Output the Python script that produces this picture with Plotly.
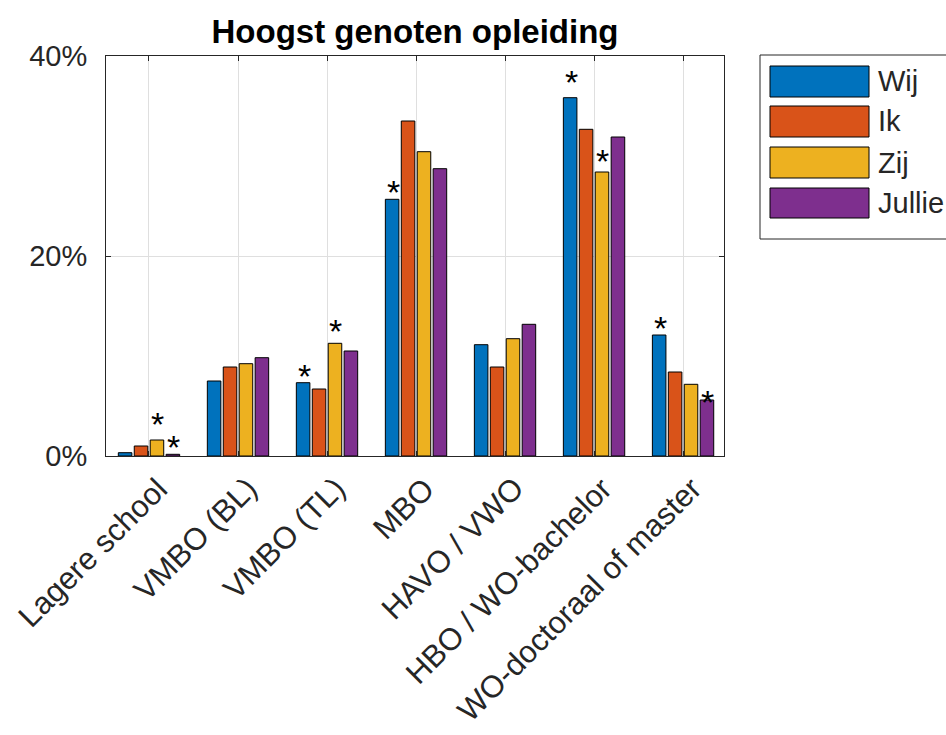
import plotly.graph_objects as go

# ---- data ----
categories = ["Lagere school", "VMBO (BL)", "VMBO (TL)", "MBO", "HAVO / VWO",
              "HBO / WO-bachelor", "WO-doctoraal of master"]
series_names = ["Wij", "Ik", "Zij", "Jullie"]
wij    = [0.33, 7.5, 7.33, 25.67, 11.13, 35.83, 12.1]
ik     = [1.0, 8.9, 6.7, 33.5, 8.9, 32.67, 8.4]
zij    = [1.6, 9.23, 11.27, 30.43, 11.73, 28.4, 7.17]
jullie = [0.17, 9.83, 10.5, 28.73, 13.17, 31.9, 5.6]
series_values = [wij, ik, zij, jullie]
y_tick_values = [0, 20, 40]
y_tick_labels = ["0%", "20%", "40%"]
title_text = "Hoogst genoten opleiding"
# significance markers: (category index, series index, height of the asterisk in %)
star_cat = [0, 0, 2, 2, 3, 5, 5, 6, 6]
star_ser = [2, 3, 0, 2, 0, 0, 2, 0, 3]
star_y   = [4.1, 1.8, 8.9, 13.4, 27.3, 38.3, 30.4, 13.7, 6.3]

# ---- style ----
colors = ["#0072BD", "#D95319", "#EDB120", "#7E2F8E"]
FONT = "Liberation Sans, Arial, Helvetica, sans-serif"
AX = "#262626"
W, H = 946, 735
L, R, T, B = 106, 724, 56, 456  # plot area in px
bargap = 0.284
slot = (1 - bargap) / len(series_names)

x_pos = list(range(1, len(categories) + 1))

fig = go.Figure()
for name, vals, col in zip(series_names, series_values, colors):
    fig.add_trace(go.Bar(
        x=x_pos, y=vals, name=name,
        marker=dict(color=col, line=dict(color="black", width=1)),
        showlegend=False, hoverinfo="x+y+name"))

annotations = []
for c, s, yv in zip(star_cat, star_ser, star_y):
    xc = x_pos[c] + (s - (len(series_names) - 1) / 2) * slot + 0.01
    annotations.append(dict(x=xc, y=yv, xref="x", yref="y", text="*",
                            showarrow=False, yanchor="middle", xanchor="center",
                            yshift=-9, font=dict(family=FONT, size=34, color="black")))

# rotated category labels
for xp, lab in zip(x_pos, categories):
    annotations.append(dict(x=xp, y=0, xref="x", yref="y", text=lab, showarrow=False,
                            textangle=-45, xanchor="right", yanchor="top",
                            xshift=28, yshift=-12,
                            font=dict(family=FONT, size=31, color=AX)))

def px2paper_x(px):
    return (px - L) / (R - L)

def px2paper_y(py):
    return (B - py) / (B - T)

shapes = []
# legend box
shapes.append(dict(type="rect", xref="paper", yref="paper",
                   x0=px2paper_x(760), x1=px2paper_x(948),
                   y0=px2paper_y(239), y1=px2paper_y(55),
                   line=dict(color=AX, width=1), fillcolor="white", layer="above"))
leg_rows = [(66, 97), (106, 137), (147, 178), (188, 218)]
for (y0, y1), name, col in zip(leg_rows, series_names, colors):
    shapes.append(dict(type="rect", xref="paper", yref="paper",
                       x0=px2paper_x(770), x1=px2paper_x(869),
                       y0=px2paper_y(y1), y1=px2paper_y(y0),
                       line=dict(color="black", width=1), fillcolor=col, layer="above"))
    annotations.append(dict(x=px2paper_x(876), y=px2paper_y((y0 + y1) / 2),
                            xref="paper", yref="paper", text=name, showarrow=False,
                            xanchor="left", yanchor="middle",
                            font=dict(family=FONT, size=29, color=AX)))

fig.update_layout(
    width=W, height=H,
    margin=dict(l=L, r=W - R, t=T, b=H - B, pad=0),
    paper_bgcolor="white", plot_bgcolor="white",
    barmode="group", bargap=bargap, bargroupgap=0.15,
    title=dict(text="<b>" + title_text + "</b>", x=(L + R) / 2 / W, xanchor="center",
               xref="container",
               y=1 - 31 / H, yanchor="middle", yref="container",
               font=dict(family=FONT, size=33, color="black")),
    font=dict(family=FONT, size=29, color=AX),
    shapes=shapes, annotations=annotations,
)
fig.update_xaxes(range=[0.517, 7.46], tickmode="array", tickvals=x_pos,
                 ticktext=[""] * len(x_pos),
                 showgrid=True, gridcolor="#dfdfdf", gridwidth=1,
                 showline=True, linecolor=AX, linewidth=1, mirror="ticks",
                 ticks="inside", ticklen=5, tickcolor=AX, zeroline=False)
fig.update_yaxes(range=[0, 40], tickmode="array", tickvals=y_tick_values, ticktext=y_tick_labels,
                 showgrid=True, gridcolor="#dfdfdf", gridwidth=1,
                 showline=True, linecolor=AX, linewidth=1, mirror="ticks",
                 ticks="inside", ticklen=5, tickcolor=AX, zeroline=False,
                 ticklabelstandoff=12,
                 tickfont=dict(family=FONT, size=29, color=AX))

fig.write_html("out.html")
